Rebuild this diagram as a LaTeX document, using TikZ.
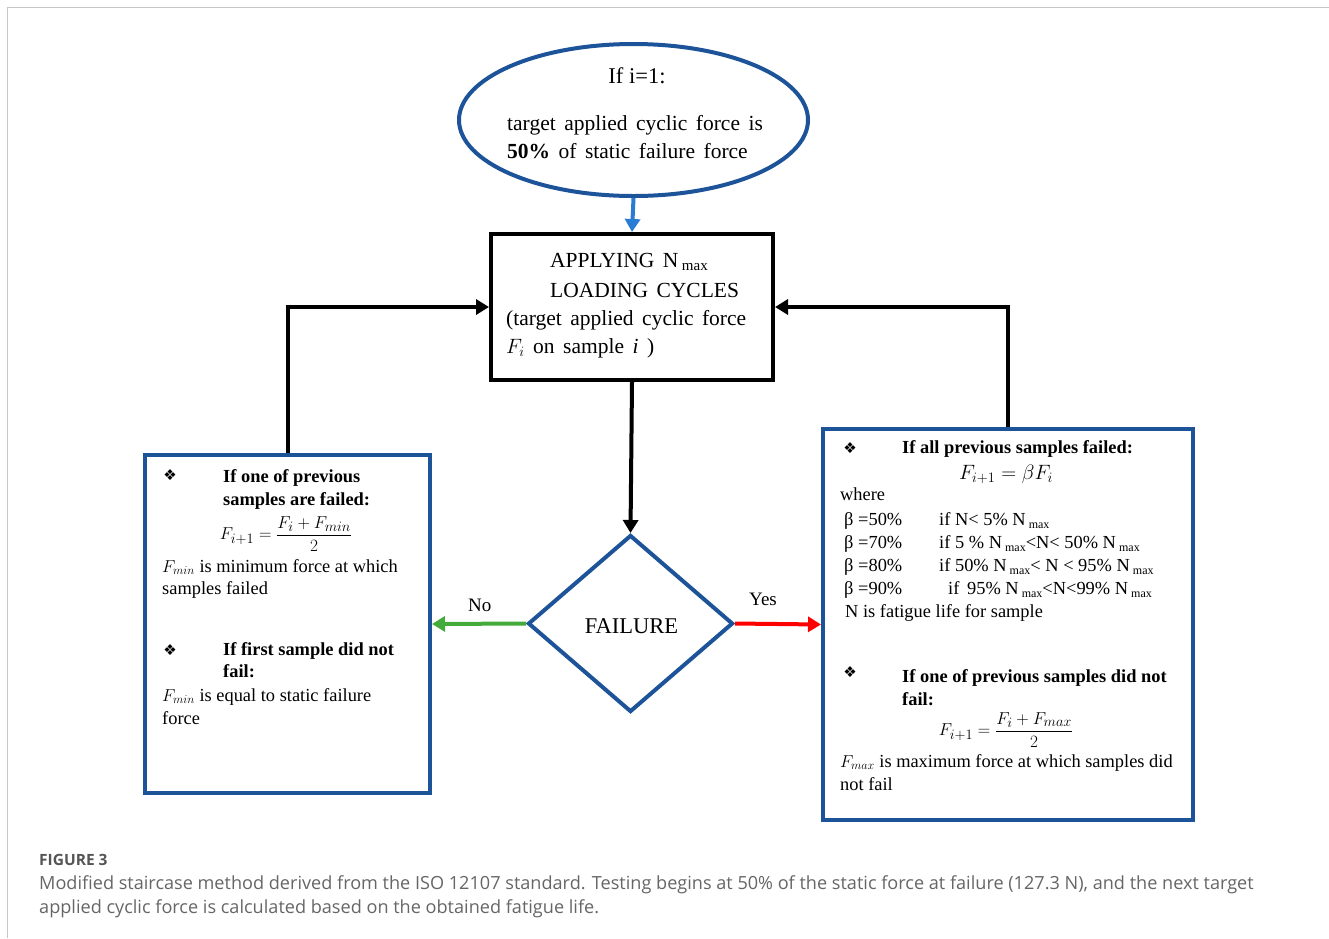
\documentclass[tikz,border=0pt]{standalone}
\usepackage{amsmath}
\usepackage{fontspec}
\setmainfont{Liberation Serif}
\newfontfamily\dejavu{DejaVu Sans}
\newfontfamily\capfont{Open Sans}
\usetikzlibrary{shapes.geometric,arrows.meta}
\definecolor{dblue}{HTML}{1C5399}
\definecolor{lblue}{HTML}{2A7BD4}
\definecolor{ngreen}{HTML}{44AA3A}
\definecolor{yred}{HTML}{FF0000}
\definecolor{capgray}{HTML}{555555}
\definecolor{captext}{HTML}{666666}
\newcommand{\msub}{\raisebox{-0.45ex}{\fontsize{12}{12}\selectfont max}}
\newcommand{\bigsub}{\raisebox{-0.4ex}{\fontsize{15}{15}\selectfont max}}
\newcommand{\bul}{{\dejavu\fontsize{15}{15}\selectfont ❖}}
\newcommand{\bigfont}{\fontsize{21.5}{29}\selectfont\spaceskip 8.5pt plus 0pt minus 0pt\relax}
\begin{document}
\begin{tikzpicture}[x=1pt,y=-1pt,
  bluebox/.style={draw=dblue, line width=4pt, inner sep=0pt, fill=white},
  blackbox/.style={draw=black, line width=4pt, inner sep=0pt, fill=white},
  sm/.style={font=\fontsize{18.4}{23}\selectfont, inner sep=0pt, anchor=base west},
  smb/.style={sm, font=\fontsize{18.4}{23}\selectfont\bfseries},
  mth/.style={inner sep=0pt, font=\fontsize{19}{23}\selectfont},
  big/.style={font=\bigfont, inner sep=0pt, anchor=base west},
  bigc/.style={big, anchor=base},
  arr/.style={line width=4pt, -{Triangle[length=13pt,width=15pt]}},
  capt/.style={inner sep=0pt, anchor=base west, font=\capfont\fontsize{18.1}{24}\selectfont, text=captext}
]
\useasboundingbox (0,0) rectangle (1329,938);
\fill[white] (0,0) rectangle (1329,938);
\draw[black!22, line width=1.5pt] (7.5,938) -- (7.5,7.5) -- (1329,7.5);

% main shapes
\node[ellipse, bluebox, minimum width=349pt, minimum height=152pt] (ell) at (633.5,120) {};
\node[rectangle, blackbox, minimum width=282pt, minimum height=146pt] (apply) at (632,307) {};
\node[diamond, bluebox, minimum width=205pt, minimum height=177pt] (fail) at (630.5,623.5) {};
\node[rectangle, bluebox, minimum width=285pt, minimum height=338pt] (lbox) at (287.5,624) {};
\node[rectangle, bluebox, minimum width=370pt, minimum height=391pt] (rbox) at (1008,624.5) {};

% connectors
\draw[arr, lblue] (ell.south) -- (apply.north);
\draw[arr, black] (apply.south) -- (fail.north);
\draw[arr, black] (lbox.north) |- (apply.west);
\draw[arr, black] (rbox.north) |- (apply.east);
\draw[arr, ngreen] (fail.west) -- (lbox.east);
\draw[arr, yred] (fail.east) -- (rbox.west);

% ellipse text
\node[bigc, font=\fontsize{22.5}{29}\selectfont] (e1) at (637,83) {If i=1:};
\node[big] (e2) at (507,130) {target applied cyclic force is};
\node[big] (e3) at (507,158) {\textbf{50\%} of static failure force};

% apply text
\node[big] (a1) at (550,267) {APPLYING N\,\bigsub};
\node[big] (a2) at (550,297) {LOADING CYCLES};
\node[big] (a3) at (506,325) {(target applied cyclic force};
\node[big] (a4) at (506,353) {$F_i$ on sample \textit{i} )};

% diamond + labels
\node[bigc, font=\fontsize{22.5}{29}\selectfont] (ft) at (631.5,633) {FAILURE};
\node[sm, font=\fontsize{19}{23}\selectfont] (no) at (468,611) {No};
\node[sm, font=\fontsize{19}{23}\selectfont] (yes) at (749,605) {Yes};

% left box text
\node[inner sep=0pt] (lb1) at (170,475) {\bul};
\node[smb] (l1) at (223,482) {If one of previous};
\node[smb] (l2) at (223,505) {samples are failed:};
\node[mth] (l3) at (286,534) {$F_{i+1}=\dfrac{F_i+F_{min}}{2}$};
\node[sm] (l4) at (162,572) {$F_{min}$ is minimum force at which};
\node[sm] (l5) at (162,594) {samples failed};
\node[inner sep=0pt] (lb2) at (170,650) {\bul};
\node[smb] (l6) at (223,655) {If first sample did not};
\node[smb] (l7) at (223,677) {fail:};
\node[sm] (l8) at (162,701) {$F_{min}$ is equal to static failure};
\node[sm] (l9) at (162,724) {force};

% right box text
\node[inner sep=0pt] (rb1) at (850,448) {\bul};
\node[smb] (r1) at (902,453) {If all previous samples failed:};
\node[mth, anchor=base, font=\fontsize{20}{23}\selectfont] (r2) at (1006,479) {$F_{i+1}=\beta F_i$};
\node[sm] (r3) at (840,500) {where};
\node[sm] (r4a) at (844,525) {β =50\%};
\node[sm] (r4b) at (939,525) {if N< 5\% N\,\msub};
\node[sm] (r5a) at (844,548) {β =70\%};
\node[sm] (r5b) at (939,548) {if 5 \% N\,\msub<N< 50\% N\,\msub};
\node[sm] (r6a) at (844,571) {β =80\%};
\node[sm] (r6b) at (939,571) {if 50\% N\,\msub< N < 95\% N\,\msub};
\node[sm] (r7a) at (844,594) {β =90\%};
\node[sm] (r7b) at (948,594) {if\, 95\% N\,\msub<N<99\% N\,\msub};
\node[sm] (r8) at (845,617) {N is fatigue life for sample};
\node[inner sep=0pt] (rb2) at (850,672) {\bul};
\node[smb] (r9) at (902,682) {If one of previous samples did not};
\node[smb] (r10) at (902,705) {fail:};
\node[mth] (r11) at (1006,730) {$F_{i+1}=\dfrac{F_i+F_{max}}{2}$};
\node[sm] (r12) at (840,767) {$F_{max}$ is maximum force at which samples did};
\node[sm] (r13) at (840,790) {not fail};

% caption
\node[capt, font=\capfont\fontsize{15.5}{24}\selectfont\bfseries, text=capgray] (c0) at (39,865) {FIGURE 3};
\node[capt] (c1) at (39,889) {Modified staircase method derived from the ISO 12107 standard. Testing begins at 50\% of the static force at failure (127.3 N), and the next target};
\node[capt] (c2) at (39,913) {applied cyclic force is calculated based on the obtained fatigue life.};
\end{tikzpicture}
\end{document}
